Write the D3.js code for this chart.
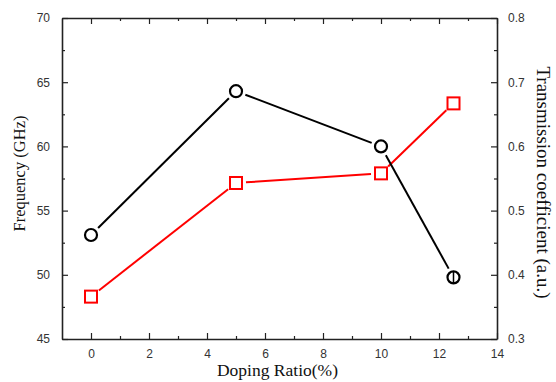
<!DOCTYPE html>
<html>
<head>
    <script type="text/javascript" src="https://cdn.jsdelivr.net/npm/d3@7"></script>
    <style>
        body { margin: 0; background: white; }
    </style>
</head>
<body>
    <div id="chart"></div>
    <script type="text/javascript">

        // values
        let dopingRatio = [0, 5, 10, 12.5];
        let frequency = [53.1, 64.3, 60.0, 49.8];
        let transmission = [0.366, 0.543, 0.558, 0.667];
        let freqErr = [0, 0, 0, 0.5];

        let xTicks = [0, 2, 4, 6, 8, 10, 12, 14];
        let yLeftTicks = [45, 50, 55, 60, 65, 70];
        let yRightTicks = [0.3, 0.4, 0.5, 0.6, 0.7, 0.8];

        let width = 556, height = 382;
        let plotLeft = 62, plotRight = 497, plotTop = 18, plotBottom = 339;

        let x = d3.scaleLinear().domain([-1, 14]).range([plotLeft, plotRight]);
        let yL = d3.scaleLinear().domain([45, 70]).range([plotBottom, plotTop]);
        let yR = d3.scaleLinear().domain([0.3, 0.8]).range([plotBottom, plotTop]);

        let svg = d3.select("#chart")
        .append("svg")
        .attr("width", width)
        .attr("height", height)
        .style("background-color", "white");

        const tickFont = "Liberation Sans, Arial, sans-serif";
        const titleFont = "Liberation Serif, Times New Roman, serif";

        // axes, ticks drawn inward
        const styleAxis = g => {
            g.select(".domain").attr("stroke", "#222").attr("stroke-width", 1.6);
            g.selectAll(".tick line").attr("stroke", "#222").attr("stroke-width", 1.2);
            g.selectAll(".tick text").attr("fill", "#333")
                .style("font-family", tickFont).style("font-size", "12px");
        };

        let minorX = [1, 3, 5, 7, 9, 11, 13];
        let minorYL = [47.5, 52.5, 57.5, 62.5, 67.5];
        let minorYR = [0.35, 0.45, 0.55, 0.65, 0.75];

        svg.append("g").attr("transform", `translate(0,${plotBottom})`)
        .call(d3.axisBottom(x).tickValues(xTicks).tickSizeInner(-6).tickSizeOuter(0).tickPadding(10))
        .call(styleAxis);
        svg.append("g").attr("transform", `translate(0,${plotBottom})`)
        .call(d3.axisBottom(x).tickValues(minorX).tickSize(-3).tickFormat(""))
        .call(g => g.select(".domain").remove())
        .call(styleAxis);

        svg.append("g").attr("transform", `translate(0,${plotTop})`)
        .call(d3.axisTop(x).tickValues(xTicks).tickSizeInner(-6).tickSizeOuter(0).tickFormat(""))
        .call(styleAxis);
        svg.append("g").attr("transform", `translate(0,${plotTop})`)
        .call(d3.axisTop(x).tickValues(minorX).tickSize(-3).tickFormat(""))
        .call(g => g.select(".domain").remove())
        .call(styleAxis);

        svg.append("g").attr("transform", `translate(${plotLeft},0)`)
        .call(d3.axisLeft(yL).tickValues(yLeftTicks).tickSizeInner(-6).tickSizeOuter(0).tickPadding(12))
        .call(styleAxis);
        svg.append("g").attr("transform", `translate(${plotLeft},0)`)
        .call(d3.axisLeft(yL).tickValues(minorYL).tickSize(-3).tickFormat(""))
        .call(g => g.select(".domain").remove())
        .call(styleAxis);

        svg.append("g").attr("transform", `translate(${plotRight},0)`)
        .call(d3.axisRight(yR).tickValues(yRightTicks).tickSizeInner(-6).tickSizeOuter(0).tickPadding(11).tickFormat(d3.format(".1f")))
        .call(styleAxis);
        svg.append("g").attr("transform", `translate(${plotRight},0)`)
        .call(d3.axisRight(yR).tickValues(minorYR).tickSize(-3).tickFormat(""))
        .call(g => g.select(".domain").remove())
        .call(styleAxis);

        // axis titles
        svg.append("text")
        .attr("x", (plotLeft + plotRight) / 2 - 2).attr("y", 376)
        .attr("text-anchor", "middle")
        .style("font-family", titleFont).style("font-size", "17.5px")
        .attr("fill", "#111")
        .text("Doping Ratio(%)");

        svg.append("text")
        .attr("transform", `translate(25,${(plotTop + plotBottom) / 2 - 5}) rotate(-90)`)
        .attr("text-anchor", "middle")
        .style("font-family", titleFont).style("font-size", "16.5px")
        .attr("fill", "#111")
        .text("Frequency (GHz)");

        svg.append("text")
        .attr("transform", `translate(537,${(plotTop + plotBottom) / 2 + 4}) rotate(90)`)
        .attr("text-anchor", "middle")
        .style("font-family", titleFont).style("font-size", "19px")
        .attr("fill", "#111")
        .text("Transmission coefficient (a.u.)");

        // segments that stop short of the markers
        const gapSegments = (pts, gap) => {
            let segs = [];
            for (let i = 0; i < pts.length - 1; i++) {
                let [x1, y1] = pts[i], [x2, y2] = pts[i + 1];
                let len = Math.hypot(x2 - x1, y2 - y1);
                let ux = (x2 - x1) / len, uy = (y2 - y1) / len;
                segs.push([x1 + ux * gap, y1 + uy * gap, x2 - ux * gap, y2 - uy * gap]);
            }
            return segs;
        };

        let freqPts = dopingRatio.map((d, i) => [x(d), yL(frequency[i])]);
        let transPts = dopingRatio.map((d, i) => [x(d), yR(transmission[i])]);

        svg.selectAll("line.trans")
        .data(gapSegments(transPts, 10))
        .enter().append("line").attr("class", "trans")
        .attr("x1", d => d[0]).attr("y1", d => d[1])
        .attr("x2", d => d[2]).attr("y2", d => d[3])
        .attr("stroke", "red").attr("stroke-width", 2);

        svg.selectAll("line.freq")
        .data(gapSegments(freqPts, 10))
        .enter().append("line").attr("class", "freq")
        .attr("x1", d => d[0]).attr("y1", d => d[1])
        .attr("x2", d => d[2]).attr("y2", d => d[3])
        .attr("stroke", "black").attr("stroke-width", 2);

        // error bars on frequency
        svg.selectAll("line.err")
        .data(dopingRatio.map((d, i) => [d, frequency[i], freqErr[i]]).filter(d => d[2] > 0))
        .enter().append("line").attr("class", "err")
        .attr("x1", d => x(d[0])).attr("x2", d => x(d[0]))
        .attr("y1", d => yL(d[1] - d[2])).attr("y2", d => yL(d[1] + d[2]))
        .attr("stroke", "black").attr("stroke-width", 1.5);

        svg.selectAll("rect.trans")
        .data(transPts)
        .enter().append("rect").attr("class", "trans")
        .attr("x", d => d[0] - 6).attr("y", d => d[1] - 6)
        .attr("width", 12).attr("height", 12)
        .attr("fill", "none").attr("stroke", "red").attr("stroke-width", 2);

        svg.selectAll("circle.freq")
        .data(freqPts)
        .enter().append("circle").attr("class", "freq")
        .attr("cx", d => d[0]).attr("cy", d => d[1])
        .attr("r", 6)
        .attr("fill", "none").attr("stroke", "black").attr("stroke-width", 2.2);

    </script>
</body>
</html>
